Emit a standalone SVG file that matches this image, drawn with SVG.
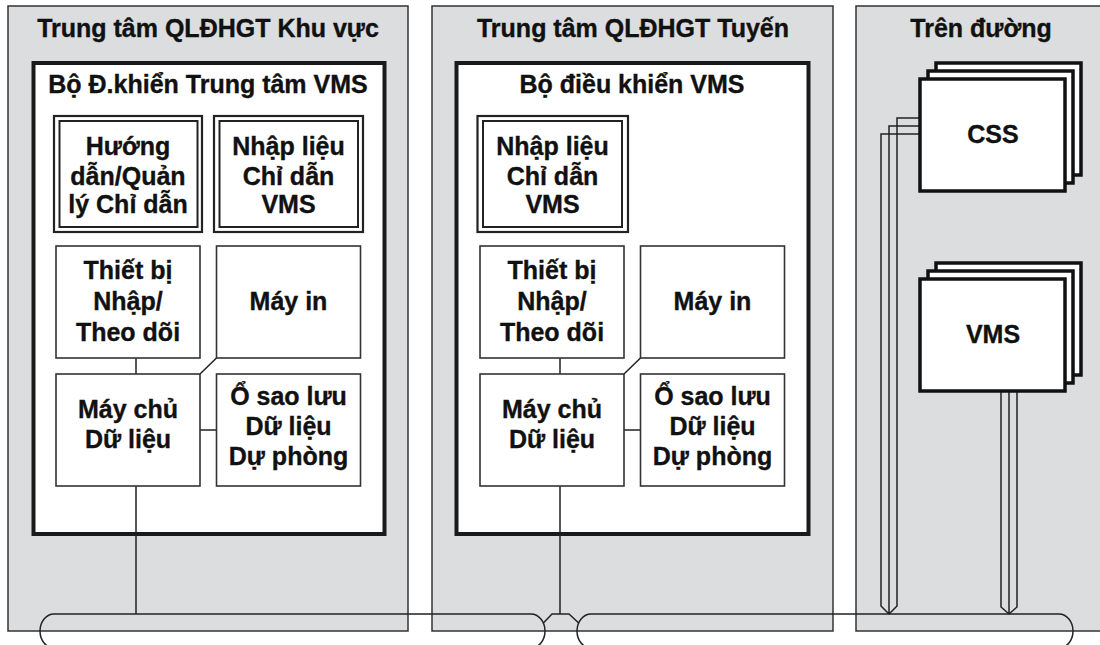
<svg xmlns="http://www.w3.org/2000/svg" width="1100" height="645" viewBox="0 0 1100 645">
<style>
.panel{fill:#dcdddf;stroke:#333;stroke-width:1.5}
.ctrl{fill:#fff;stroke:#1a1a1a;stroke-width:4}
.box{fill:#fff;stroke:#333;stroke-width:1.6}
.dbo{fill:#fff;stroke:#222;stroke-width:2.2}
.dbi{fill:none;stroke:#222;stroke-width:2}
.dev{fill:#fff;stroke:#111;stroke-width:3.5}
.wire{fill:none;stroke:#222;stroke-width:1.5}
text{font-family:"Liberation Sans",Arial,sans-serif;font-weight:bold;font-size:25px;text-anchor:middle;fill:#111;stroke:#111;stroke-width:0.35}
</style>
<rect width="1100" height="645" fill="#fff"/>

<g id="panel-khu-vuc">
<rect class="panel" x="8" y="6" width="400" height="625"/>
<text x="208" y="37">Trung tâm QLĐHGT Khu vực</text>
</g>
<g id="panel-tuyen">
<rect class="panel" x="432" y="6" width="401" height="625"/>
<text x="633" y="37">Trung tâm QLĐHGT Tuyến</text>
</g>
<g id="panel-tren-duong">
<rect class="panel" x="856" y="6" width="260" height="625"/>
<text x="981" y="37">Trên đường</text>
</g>

<g id="ctrl-trung-tam">
<rect class="ctrl" x="33.5" y="63" width="351" height="471"/>
<text x="208" y="93">Bộ Đ.khiển Trung tâm VMS</text>
</g>
<g id="ctrl-tuyen">
<rect class="ctrl" x="456.5" y="63" width="352" height="471"/>
<text x="632" y="93">Bộ điều khiển VMS</text>
</g>

<g id="connectors">
<path class="wire" d="M136,358V374M216.5,358L200,374M200,430H216.5M136,486V614"/>
<path class="wire" d="M560,358V374M640.5,358L624,374M624,430H640.5M560,486V614"/>
<rect class="wire" x="40" y="614" width="505" height="34" rx="14" ry="17"/>
<rect class="wire" x="577" y="614" width="496" height="34" rx="14" ry="17"/>
<path class="wire" d="M543.3,623L552,614H569L578.7,623"/>
<path class="wire" d="M920,134H881V606L889,614M920,126H889V614M920,118H897V606L889,614"/>
<path class="wire" d="M1001,391V607L1009,614M1009,391V614M1017,391V607L1009,614"/>
</g>

<g id="huong-dan">
<rect class="dbo" x="54" y="116" width="148" height="116"/>
<rect class="dbi" x="59.5" y="121" width="138" height="106"/>
<text x="128" y="155">Hướng</text>
<text x="128" y="185">dẫn/Quản</text>
<text x="128" y="213">lý Chỉ dẫn</text>
</g>
<g id="nhap-lieu-1">
<rect class="dbo" x="214" y="116" width="149" height="116"/>
<rect class="dbi" x="219.5" y="121" width="138.5" height="106"/>
<text x="288.5" y="155">Nhập liệu</text>
<text x="288.5" y="185">Chỉ dẫn</text>
<text x="288.5" y="213">VMS</text>
</g>
<g id="thiet-bi-1">
<rect class="box" x="56" y="246" width="144" height="112"/>
<text x="128" y="279">Thiết bị</text>
<text x="128" y="310">Nhập/</text>
<text x="128" y="341">Theo dõi</text>
</g>
<g id="may-in-1">
<rect class="box" x="216.5" y="246" width="144" height="112"/>
<text x="288.5" y="310">Máy in</text>
</g>
<g id="may-chu-1">
<rect class="box" x="56" y="374" width="144" height="112"/>
<text x="128" y="418">Máy chủ</text>
<text x="128" y="448">Dữ liệu</text>
</g>
<g id="sao-luu-1">
<rect class="box" x="216.5" y="374" width="144" height="112"/>
<text x="288.5" y="405">Ổ sao lưu</text>
<text x="288.5" y="435">Dữ liệu</text>
<text x="288.5" y="465">Dự phòng</text>
</g>

<g id="nhap-lieu-2">
<rect class="dbo" x="477.5" y="116" width="150.5" height="116"/>
<rect class="dbi" x="483" y="121" width="139" height="106"/>
<text x="552.5" y="155">Nhập liệu</text>
<text x="552.5" y="185">Chỉ dẫn</text>
<text x="552.5" y="213">VMS</text>
</g>
<g id="thiet-bi-2">
<rect class="box" x="480" y="246" width="144" height="112"/>
<text x="552" y="279">Thiết bị</text>
<text x="552" y="310">Nhập/</text>
<text x="552" y="341">Theo dõi</text>
</g>
<g id="may-in-2">
<rect class="box" x="640.5" y="246" width="144" height="112"/>
<text x="712.5" y="310">Máy in</text>
</g>
<g id="may-chu-2">
<rect class="box" x="480" y="374" width="144" height="112"/>
<text x="552" y="418">Máy chủ</text>
<text x="552" y="448">Dữ liệu</text>
</g>
<g id="sao-luu-2">
<rect class="box" x="640.5" y="374" width="144" height="112"/>
<text x="712.5" y="405">Ổ sao lưu</text>
<text x="712.5" y="435">Dữ liệu</text>
<text x="712.5" y="465">Dự phòng</text>
</g>

<g id="css">
<rect class="dev" x="936" y="63" width="145" height="112"/>
<rect class="dev" x="928" y="71" width="145" height="112"/>
<rect class="dev" x="920" y="79" width="145" height="112"/>
<text x="993" y="143">CSS</text>
</g>
<g id="vms">
<rect class="dev" x="936" y="263" width="145" height="112"/>
<rect class="dev" x="928" y="271" width="145" height="112"/>
<rect class="dev" x="920" y="279" width="145" height="112"/>
<text x="993" y="343">VMS</text>
</g>
</svg>
